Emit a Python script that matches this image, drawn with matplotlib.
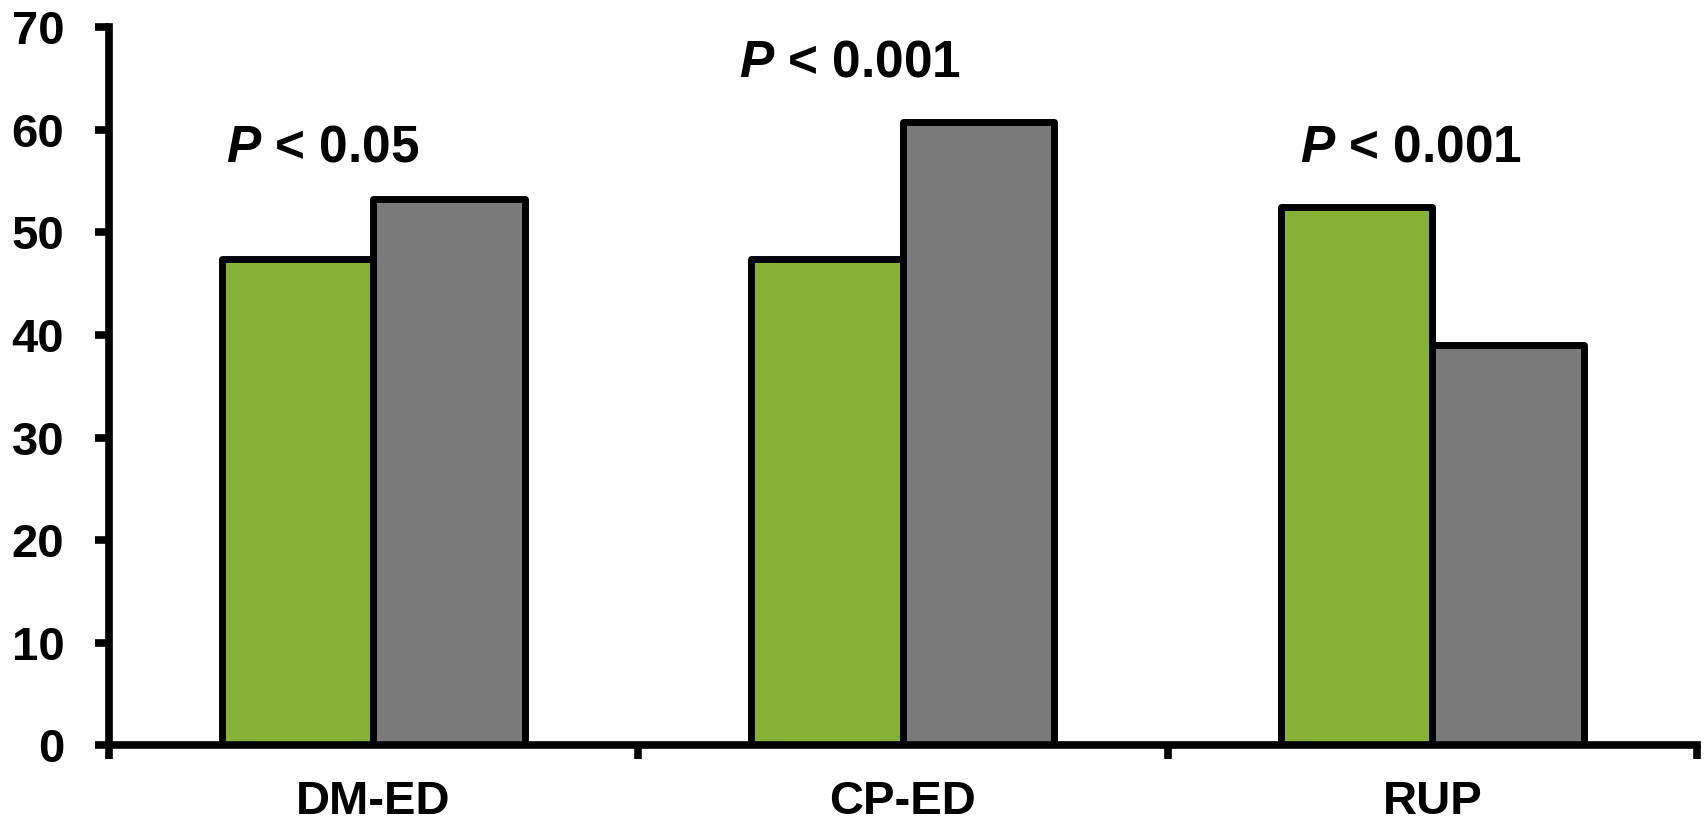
import matplotlib

matplotlib.use("Agg")
import matplotlib.pyplot as plt
import numpy as np

plt.rcParams["font.family"] = ["Liberation Sans", "DejaVu Sans"]
plt.rcParams["font.weight"] = "bold"
plt.rcParams["mathtext.fontset"] = "custom"
plt.rcParams["mathtext.bfit"] = "Liberation Sans:bold:italic"
plt.rcParams["mathtext.it"] = "Liberation Sans:bold:italic"
plt.rcParams["mathtext.rm"] = "Liberation Sans:bold"

FONT_SIZE: int = 34
P_FONT_SIZE: int = 37
GREEN: str = "#85B235"
GRAY: str = "#7A7A7A"
BAR_WIDTH: float = 0.286

categories = ["DM-ED", "CP-ED", "RUP"]
green_values = [47.4, 47.4, 52.5]
gray_values = [53.2, 60.7, 39.0]
p_labels = ["< 0.05", "< 0.001", "< 0.001"]
p_x = [-0.095, 0.90, 1.96]
p_y = [58.2, 66.5, 58.2]
y_ticks = [0, 10, 20, 30, 40, 50, 60, 70]

fig = plt.figure(figsize=(17.04, 8.23), dpi=100)
ax = fig.add_axes([0.0638, 0.0942, 0.9321, 0.8730])

x = np.arange(len(categories))
ax.bar(x - BAR_WIDTH / 2, green_values, BAR_WIDTH, color=GREEN,
       edgecolor="black", linewidth=5, joinstyle="round", zorder=2)
ax.bar(x + BAR_WIDTH / 2, gray_values, BAR_WIDTH, color=GRAY,
       edgecolor="black", linewidth=5, joinstyle="round", zorder=2)

for px, py, label in zip(p_x, p_y, p_labels):
    ax.text(px, py, r"$\mathbfit{P}$ " + label, ha="center", va="center",
            fontsize=P_FONT_SIZE, fontweight="bold")

ax.set_xlim(-0.5, 2.5)
ax.set_ylim(0, 70)
ax.set_xticks(x)
ax.set_xticklabels(categories)
ax.set_xticks([-0.5, 0.5, 1.5, 2.5], minor=True)
ax.tick_params(axis="x", which="major", length=0, pad=25, labelsize=FONT_SIZE)
ax.tick_params(axis="x", which="minor", length=10, width=5.5, direction="out")
ax.set_yticks(y_ticks)
ax.tick_params(axis="y", length=10, width=5.5, pad=22, labelsize=FONT_SIZE)

for side in ["top", "right"]:
    ax.spines[side].set_visible(False)
for side in ["left", "bottom"]:
    ax.spines[side].set_linewidth(5.5)
    ax.spines[side].set_zorder(3)

fig.savefig("out.png", dpi=100)
